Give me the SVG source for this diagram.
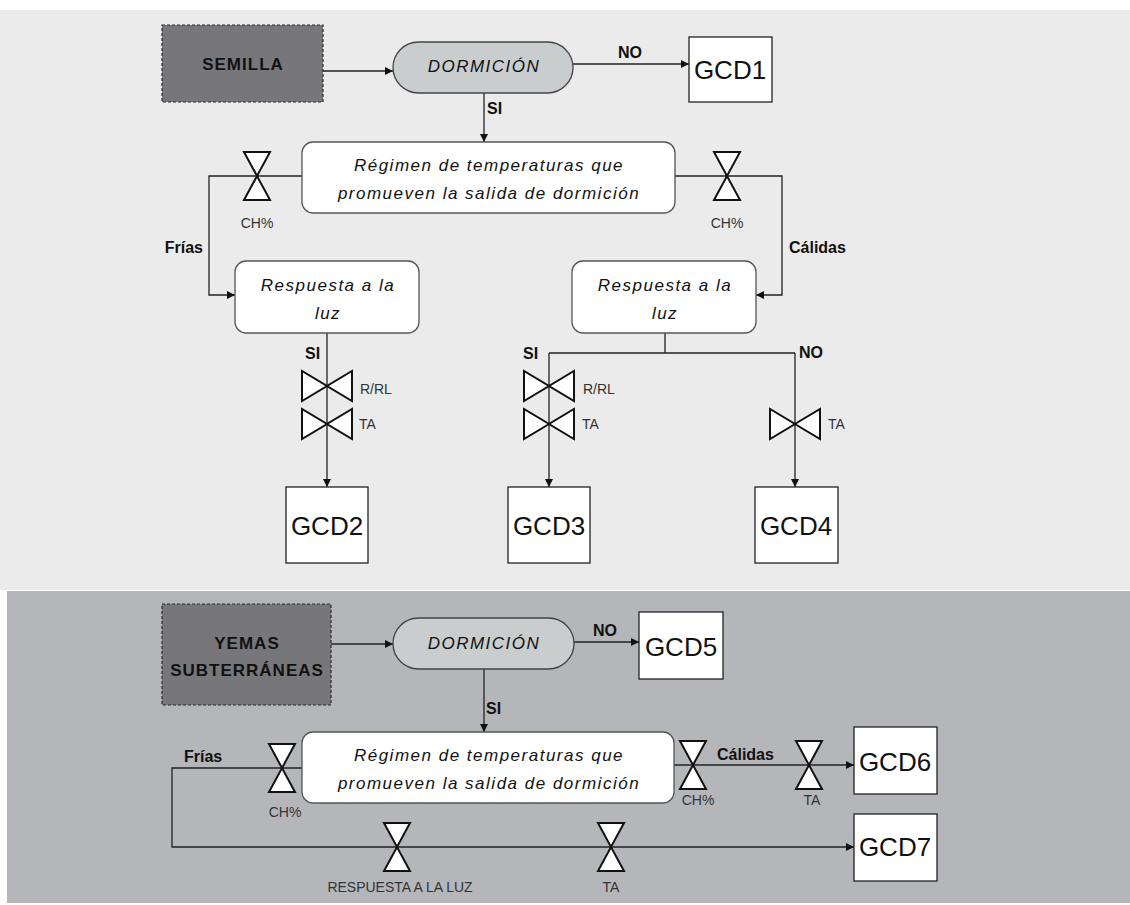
<svg xmlns="http://www.w3.org/2000/svg" width="1130" height="905" viewBox="0 0 1130 905">
<style>
.bg1{fill:#ebebeb}
.bg2{fill:#b5b6ba}
.src{fill:#77777b;stroke:#2a2a2a;stroke-width:1.2;stroke-dasharray:3 2}
.pill{fill:#c9cdcd;stroke:#444;stroke-width:1.3}
.rbox{fill:#fff;stroke:#555;stroke-width:1.3}
.gcd{fill:#fff;stroke:#222;stroke-width:1.3}
.ln{fill:none;stroke:#222;stroke-width:1.3}
.v{fill:#fff;stroke:#111;stroke-width:2;stroke-linejoin:miter}
.bt{font-family:"Liberation Sans",Arial,sans-serif;font-weight:bold;font-size:17px;letter-spacing:1px;fill:#111;text-anchor:middle}
.it{font-family:"Liberation Sans",Arial,sans-serif;font-style:italic;font-size:17px;letter-spacing:1.5px;fill:#111;text-anchor:middle}
.g{font-family:"Liberation Sans",Arial,sans-serif;font-size:26px;fill:#111;text-anchor:middle}
.lb{font-family:"Liberation Sans",Arial,sans-serif;font-weight:bold;font-size:16px;fill:#111}
.sm{font-family:"Liberation Sans",Arial,sans-serif;font-size:14px;fill:#333}
</style>
<defs>
<marker id="ah" markerUnits="userSpaceOnUse" markerWidth="9" markerHeight="9" refX="8" refY="4" orient="auto">
<path d="M0,0 L8,4 L0,8 z" fill="#111"/>
</marker>
<g id="vv"><path class="v" d="M-13,-24 H13 L0,0 Z M-13,24 H13 L0,0 Z"/></g>
<g id="hv"><path class="v" d="M-25,-15 V15 L0,0 Z M25,-15 V15 L0,0 Z"/></g>
</defs>

<rect class="bg1" x="0" y="10" width="1130" height="580"/>
<rect class="bg2" x="7" y="591" width="1123" height="312"/>

<g id="connectors">
<path class="ln" d="M323,71 H393" marker-end="url(#ah)"/>
<path class="ln" d="M573,64 H689" marker-end="url(#ah)"/>
<path class="ln" d="M484,93 V142" marker-end="url(#ah)"/>
<path class="ln" d="M302,176 H209 V295 H235" marker-end="url(#ah)"/>
<path class="ln" d="M675,176 H782 V295 H756" marker-end="url(#ah)"/>
<path class="ln" d="M327,333 V487" marker-end="url(#ah)"/>
<path class="ln" d="M665,333 V353 M549,353 H795"/>
<path class="ln" d="M549,353 V487" marker-end="url(#ah)"/>
<path class="ln" d="M795,353 V487" marker-end="url(#ah)"/>
<path class="ln" d="M331,644 H393" marker-end="url(#ah)"/>
<path class="ln" d="M574,642 H639" marker-end="url(#ah)"/>
<path class="ln" d="M484,669 V732" marker-end="url(#ah)"/>
<path class="ln" d="M302,768 H172 V847 H854" marker-end="url(#ah)"/>
<path class="ln" d="M674,765 H854" marker-end="url(#ah)"/>
<text class="lb" x="630" y="58" text-anchor="middle">NO</text>
<text class="lb" x="487" y="114">SI</text>
<text class="lb" x="203" y="253" text-anchor="end">Frías</text>
<text class="lb" x="789" y="253">Cálidas</text>
<text class="lb" x="305" y="359">SI</text>
<text class="lb" x="523" y="359">SI</text>
<text class="lb" x="799" y="358">NO</text>
<text class="lb" x="605" y="636" text-anchor="middle">NO</text>
<text class="lb" x="486" y="714">SI</text>
<text class="lb" x="184" y="762">Frías</text>
<text class="lb" x="717" y="760">Cálidas</text>
</g>

<g id="semilla"><rect class="src" x="162" y="25" width="161" height="77"/><text class="bt" x="243" y="70">SEMILLA</text></g>
<g id="dormicion1"><rect class="pill" x="393" y="42" width="180" height="51" rx="25.5"/><text class="it" x="484" y="72">DORMICIÓN</text></g>
<g id="gcd1"><rect class="gcd" x="689" y="37" width="83" height="65"/><text class="g" x="730" y="79">GCD1</text></g>
<g id="regimen1"><rect class="rbox" x="302" y="142" width="373" height="71" rx="11"/><text class="it" x="489" y="171">Régimen de temperaturas que</text><text class="it" x="489" y="199">promueven la salida de dormición</text></g>
<g id="respuesta1"><rect class="rbox" x="235" y="261" width="184" height="72" rx="11"/><text class="it" x="328" y="291">Respuesta a la</text><text class="it" x="328" y="319">luz</text></g>
<g id="respuesta2"><rect class="rbox" x="572" y="261" width="184" height="72" rx="11"/><text class="it" x="665" y="291">Respuesta a la</text><text class="it" x="665" y="319">luz</text></g>
<g id="gcd2"><rect class="gcd" x="286" y="487" width="82" height="76"/><text class="g" x="327" y="535">GCD2</text></g>
<g id="gcd3"><rect class="gcd" x="508" y="487" width="82" height="76"/><text class="g" x="549" y="535">GCD3</text></g>
<g id="gcd4"><rect class="gcd" x="755" y="487" width="83" height="76"/><text class="g" x="796" y="535">GCD4</text></g>

<g id="valve-ch1"><use href="#vv" x="257" y="176"/><text class="sm" x="257" y="228" text-anchor="middle">CH%</text></g>
<g id="valve-ch2"><use href="#vv" x="727" y="176"/><text class="sm" x="727" y="228" text-anchor="middle">CH%</text></g>
<g id="valve-rrl1"><use href="#hv" x="327" y="386"/><text class="sm" x="360" y="394">R/RL</text></g>
<g id="valve-ta1"><use href="#hv" x="327" y="424"/><text class="sm" x="359" y="429">TA</text></g>
<g id="valve-rrl2"><use href="#hv" x="549" y="386"/><text class="sm" x="583" y="394">R/RL</text></g>
<g id="valve-ta2"><use href="#hv" x="549" y="424"/><text class="sm" x="582" y="429">TA</text></g>
<g id="valve-ta3"><use href="#hv" x="795" y="424"/><text class="sm" x="828" y="429">TA</text></g>

<g id="yemas"><rect class="src" x="162" y="604" width="169" height="101"/><text class="bt" x="247" y="649">YEMAS</text><text class="bt" x="247" y="676">SUBTERRÁNEAS</text></g>
<g id="dormicion2"><rect class="pill" x="393" y="618" width="181" height="51" rx="25.5"/><text class="it" x="484" y="649">DORMICIÓN</text></g>
<g id="gcd5"><rect class="gcd" x="639" y="612" width="84" height="67"/><text class="g" x="681" y="656">GCD5</text></g>
<g id="regimen2"><rect class="rbox" x="302" y="732" width="372" height="71" rx="11"/><text class="it" x="489" y="761">Régimen de temperaturas que</text><text class="it" x="489" y="789">promueven la salida de dormición</text></g>
<g id="gcd6"><rect class="gcd" x="854" y="727" width="83" height="67"/><text class="g" x="895" y="771">GCD6</text></g>
<g id="gcd7"><rect class="gcd" x="854" y="814" width="83" height="67"/><text class="g" x="895" y="856">GCD7</text></g>

<g id="valve-ch3"><use href="#vv" x="282" y="768"/><text class="sm" x="285" y="817" text-anchor="middle">CH%</text></g>
<g id="valve-ch4"><use href="#vv" x="693" y="765"/><text class="sm" x="698" y="805" text-anchor="middle">CH%</text></g>
<g id="valve-ta4"><use href="#vv" x="809" y="765"/><text class="sm" x="812" y="805" text-anchor="middle">TA</text></g>
<g id="valve-luz"><use href="#vv" x="397" y="847"/><text class="sm" x="400" y="892" text-anchor="middle">RESPUESTA A LA LUZ</text></g>
<g id="valve-ta5"><use href="#vv" x="611" y="847"/><text class="sm" x="611" y="892" text-anchor="middle">TA</text></g>
</svg>
